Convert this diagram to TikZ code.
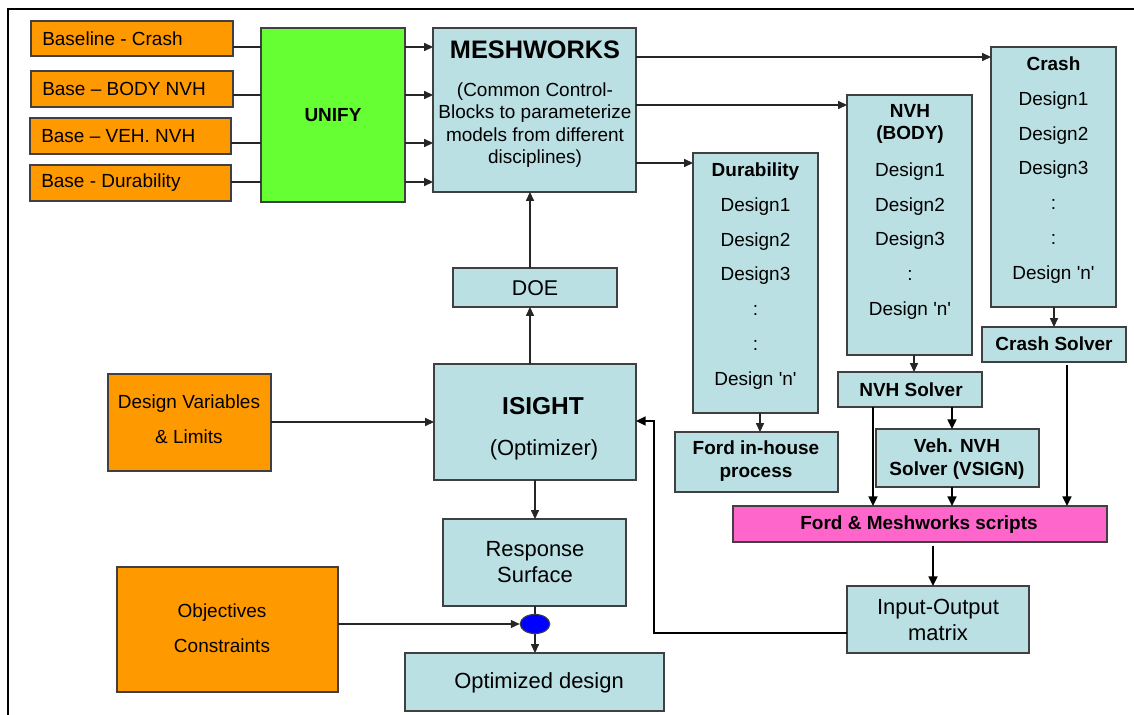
\documentclass[tikz,border=0pt]{standalone}
\usepackage{fontspec}
\setmainfont{Liberation Sans}
\usetikzlibrary{arrows.meta,fit,shapes.geometric}
\definecolor{lblue}{HTML}{BBE0E3}
\definecolor{orng}{HTML}{FF9900}
\definecolor{grn}{HTML}{66FF33}
\definecolor{pnk}{HTML}{FF66CC}
\definecolor{bdr}{HTML}{404040}
\begin{document}
\begin{tikzpicture}[x=0.025cm,y=-0.025cm,
  box/.style={draw=bdr, line width=0.75pt, inner sep=0pt, outer sep=0pt},
  bluebox/.style={box, fill=lblue},
  orbox/.style={box, fill=orng},
  txt/.style={inner sep=0pt, align=center, font=\fontsize{13.5}{16}\selectfont},
  txtl/.style={txt, anchor=west},
  btxt/.style={txt, font=\fontsize{13.5}{16.3}\selectfont\bfseries},
  big/.style={txt, font=\fontsize{15.6}{19.1}\selectfont},
  col/.style={txt, font=\fontsize{13.5}{24.7}\selectfont},
  arr/.style={line width=0.75pt, draw=black!85, -{Triangle[length=2.2mm,width=2mm]}},
  tarr/.style={line width=1.4pt, -{Triangle[length=2.4mm,width=2.2mm]}},
  conn/.style={line width=0.75pt, draw=black!85},
]
\useasboundingbox (0,0) rectangle (1134,715);
% frame
\draw[line width=1.4pt] (8,715) -- (8,9) -- (1134,9);

% orange input boxes
\node[orbox, fit={(31,21)(233,56)}] (b1) {};
\node[orbox, fit={(31,71)(233,107)}] (b2) {};
\node[orbox, fit={(30,118)(231,154)}] (b3) {};
\node[orbox, fit={(30,165)(231,201)}] (b4) {};
\node[txtl] (b1t) at (42,39) {Baseline - Crash};
\node[txtl] (b2t) at (42,89) {Base – BODY NVH};
\node[txtl] (b3t) at (41,136) {Base – VEH. NVH};
\node[txtl] (b4t) at (41,183) {Base - Durability};

% unify
\node[box, fill=grn, fit={(261,28)(405,202)}] (unify) {};
\node[btxt] (unifyt) at (333,115) {UNIFY};

% meshworks
\node[bluebox, fit={(433,28)(636,192)}] (mesh) {};
\node[txt, font=\fontsize{18}{20}\selectfont\bfseries] (mesht) at (535,50) {MESHWORKS};
\node[txt] (meshs) at (535,125) {(Common Control-\\Blocks to parameterize\\models from different\\disciplines)};

% DOE
\node[bluebox, fit={(453,268)(617,307)}] (doe) {};
\node[txt, font=\fontsize{15.2}{18}\selectfont] (doet) at (535,288) {DOE};

% ISIGHT
\node[bluebox, fit={(434,364)(636,480)}] (isight) {};
\node[txt, font=\fontsize{17.4}{20}\selectfont\bfseries] (isightt) at (543,406) {ISIGHT};
\node[big] (isighto) at (544,450) {(Optimizer)};

% design variables
\node[orbox, fit={(108,374)(271,471)}] (dv) {};
\node[txt, font=\fontsize{13.5}{24.8}\selectfont] (dvt) at (189,419) {Design Variables\\\& Limits};

% objectives
\node[orbox, fit={(117,567)(338,692)}] (obj) {};
\node[txt, font=\fontsize{13.5}{24.8}\selectfont] (objt) at (222,628) {Objectives\\Constraints};

% response surface
\node[bluebox, fit={(443,519)(626,606)}] (rs) {};
\node[big] (rst) at (535,562) {Response\\Surface};

% ellipse
\node[draw=bdr, fill=blue, ellipse, line width=0.75pt, inner sep=0pt,
      minimum width=0.74cm, minimum height=0.48cm] (ell) at (535,624) {};

% optimized design
\node[bluebox, fit={(405,653)(664,711)}] (opt) {};
\node[big] (optt) at (539,683) {Optimized design};

% discipline columns
\node[bluebox, fit={(693,153)(818,413)}] (dur) {};
\node[col] (durt) at (755.5,276) {\textbf{Durability}\\Design1\\Design2\\Design3\\:\\:\\Design \textquotesingle n\textquotesingle};

\node[bluebox, fit={(847,95)(972,355)}] (nvh) {};
\node[btxt, font=\fontsize{13.5}{15.6}\selectfont\bfseries] (nvht) at (910,124) {NVH\\(BODY)};
\node[col] (nvhd) at (910,241) {Design1\\Design2\\Design3\\:\\Design \textquotesingle n\textquotesingle};

\node[bluebox, fit={(991,47)(1116,307)}] (crash) {};
\node[col] (crasht) at (1053.5,170) {\textbf{Crash}\\Design1\\Design2\\Design3\\:\\:\\Design \textquotesingle n\textquotesingle};

% solvers
\node[bluebox, fit={(982,327)(1126,362)}] (cs) {};
\node[btxt] (cst) at (1054,344) {Crash Solver};
\node[bluebox, fit={(838,372)(982,407)}] (nvhs) {};
\node[btxt] (nvhst) at (911,390) {NVH Solver};
\node[bluebox, fit={(675,432)(838,492)}] (fih) {};
\node[btxt] (fiht) at (756,461) {Ford in-house\\process};
\node[bluebox, fit={(876,429)(1039,487)}] (veh) {};
\node[btxt] (veht) at (957,459) {Veh. NVH\\Solver (VSIGN)};

% scripts
\node[box, fill=pnk, fit={(733,506)(1107,542)}] (fm) {};
\node[btxt] (fmt) at (919,525) {Ford \& Meshworks scripts};

% io matrix
\node[bluebox, fit={(847,586)(1029,653)}] (io) {};
\node[big] (iot) at (938,620) {Input-Output\\matrix};

% connectors: inputs -> unify -> meshworks
\foreach \b/\yy in {b1/47,b2/95,b3/143,b4/182}{
  \draw[conn] (\b.east |- 0,\yy) -- (unify.west |- 0,\yy);
  \draw[arr] (unify.east |- 0,\yy) -- (mesh.west |- 0,\yy);
}
% meshworks -> disciplines
\draw[arr] (mesh.east |- 0,57) -- (crash.west |- 0,57);
\draw[arr] (mesh.east |- 0,105) -- (nvh.west |- 0,105);
\draw[arr] (mesh.east |- 0,163) -- (dur.west |- 0,163);
% isight -> doe -> meshworks
\draw[arr] (isight.north -| 530,0) -- (doe.south -| 530,0);
\draw[arr] (doe.north -| 530,0) -- (mesh.south -| 530,0);
% discipline -> solvers
\draw[arr] (crash.south -| 1054,0) -- (cs.north -| 1054,0);
\draw[arr] (nvh.south -| 914,0) -- (nvhs.north -| 914,0);
\draw[arr] (dur.south -| 760,0) -- (fih.north -| 760,0);
\draw[tarr] (nvhs.south -| 952,0) -- (veh.north -| 952,0);
\draw[tarr] (nvhs.south -| 873,0) -- (fm.north -| 873,0);
\draw[tarr] (veh.south -| 952,0) -- (fm.north -| 952,0);
\draw[tarr, shorten <=2pt] (cs.south -| 1067,0) -- (fm.north -| 1067,0);
\draw[tarr, shorten <=3pt] (fm.south -| 933,0) -- (io.north -| 933,0);
% feedback to isight
\coordinate (fb) at (654,633);
\draw[tarr] (io.west |- fb) -- (fb) |- (isight.east |- 0,421);
% design variables -> isight
\draw[arr] (dv.east |- 0,422) -- (isight.west |- 0,422);
% isight -> response surface -> ellipse -> optimized
\draw[arr] (isight.south -| 535,0) -- (rs.north -| 535,0);
\draw[conn] (rs.south -| ell.north) -- (ell.north);
\draw[arr] (obj.east |- ell.west) -- (ell.west);
\draw[arr] (ell.south) -- (opt.north -| ell.south);
\end{tikzpicture}
\end{document}
